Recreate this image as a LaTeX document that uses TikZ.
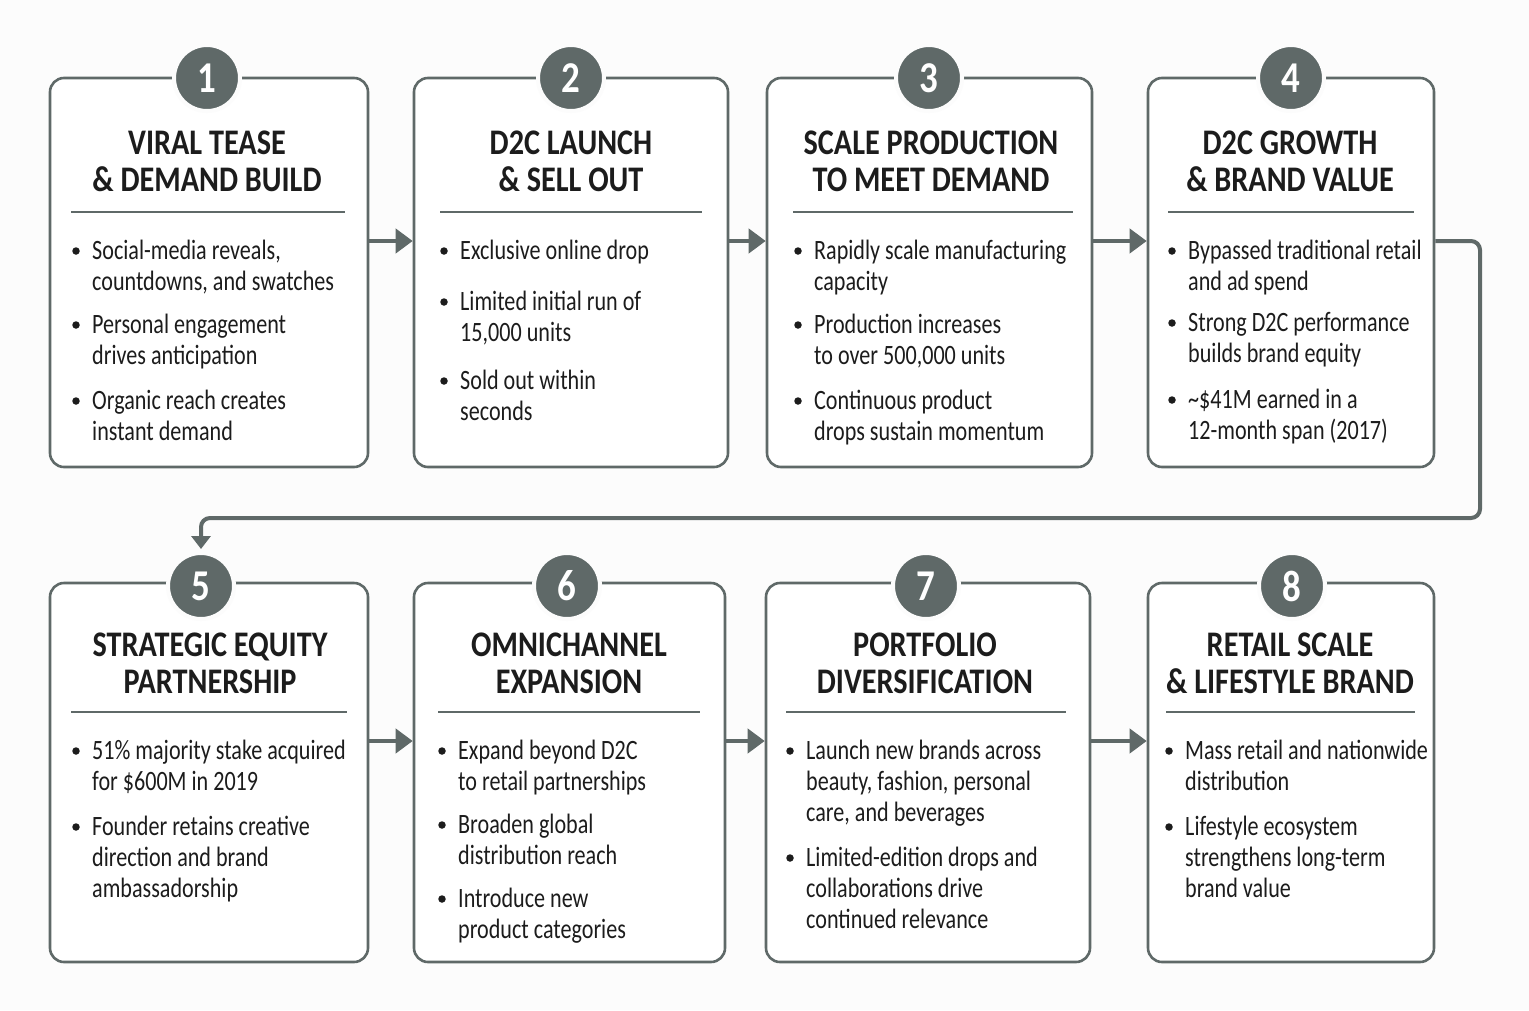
\documentclass[tikz,border=0pt]{standalone}
\usepackage{fontspec}
\setmainfont{Carlito}
\newfontfamily\bodyfont{Carlito}[FakeStretch=0.79]
\newfontfamily\titlefont{Carlito}[FakeStretch=0.84]
\usetikzlibrary{arrows.meta}
\definecolor{edgegray}{HTML}{5F6968}
\definecolor{inkc}{HTML}{1C1C1C}
\definecolor{bgc}{HTML}{FCFCFC}
\tikzset{
  stagebox/.style={draw=edgegray, line width=2.6pt, rounded corners=14pt, fill=white, inner sep=0pt},
  numdisc/.style={circle, fill=edgegray, draw=bgc, line width=4pt, minimum size=66pt, inner sep=0pt,
     text=white, font=\titlefont\bfseries\fontsize{44}{44}\selectfont},
  titletext/.style={anchor=base, inner sep=0pt, text=inkc, font=\titlefont\bfseries\fontsize{36}{36}\selectfont},
  bodytext/.style={anchor=base west, inner sep=0pt, text=inkc, font=\bodyfont\fontsize{28}{31}\selectfont},
  bdot/.style={circle, fill=inkc, minimum size=7.5pt, inner sep=0pt},
  divider/.style={draw=edgegray, line width=1.8pt},
  flowarrow/.style={draw=edgegray, line width=4pt, -{Triangle[length=17pt,width=24pt]}},
  wraparrow/.style={draw=edgegray, line width=4pt, rounded corners=9pt, -{Triangle[length=13pt,width=19pt]}},
}
\newcommand\bl[4]{%
  \node[bdot] (#1) at (#2-16,#3+1) {};
  \foreach \t [count=\i from 0] in {#4}
    \node[bodytext] (#1-\i) at (#2,#3+9+31*\i) {\t};
}
\newcommand\ttl[5]{%
  \node[titletext] (#1a) at (#2,#3+12) {#4};
  \node[titletext] (#1b) at (#2,#3+49) {#5};
}
\begin{document}
\begin{tikzpicture}[x=1pt,y=-1pt]
\useasboundingbox (0,0) rectangle (1529,1010);
\fill[bgc] (0,0) rectangle (1529,1010);

% boxes
\node[stagebox, minimum width=318pt, minimum height=389pt] (b1) at (209,272.5) {};
\node[stagebox, minimum width=314pt, minimum height=389pt] (b2) at (571,272.5) {};
\node[stagebox, minimum width=325pt, minimum height=389pt] (b3) at (929.5,272.5) {};
\node[stagebox, minimum width=286pt, minimum height=389pt] (b4) at (1291,272.5) {};
\node[stagebox, minimum width=318pt, minimum height=379pt] (b5) at (209,772.5) {};
\node[stagebox, minimum width=311pt, minimum height=379pt] (b6) at (569.5,772.5) {};
\node[stagebox, minimum width=324pt, minimum height=379pt] (b7) at (928,772.5) {};
\node[stagebox, minimum width=286pt, minimum height=379pt] (b8) at (1291,772.5) {};

% number discs
\node[numdisc] (c1) at (207,78) {1};
\node[numdisc] (c2) at (571,78) {2};
\node[numdisc] (c3) at (929,78) {3};
\node[numdisc] (c4) at (1291,78) {4};
\node[numdisc] (c5) at (201,586) {5};
\node[numdisc] (c6) at (567,586) {6};
\node[numdisc] (c7) at (926,586) {7};
\node[numdisc] (c8) at (1292,586) {8};

% titles
\ttl{t1}{207}{142}{VIRAL TEASE}{\& DEMAND BUILD}
\ttl{t2}{571}{142}{D2C LAUNCH}{\& SELL OUT}
\ttl{t3}{931}{142}{SCALE PRODUCTION}{TO MEET DEMAND}
\ttl{t4}{1290}{142}{D2C GROWTH}{\& BRAND VALUE}
\ttl{t5}{210}{644}{STRATEGIC EQUITY}{PARTNERSHIP}
\ttl{t6}{569}{644}{OMNICHANNEL}{EXPANSION}
\ttl{t7}{925}{644}{PORTFOLIO}{DIVERSIFICATION}
\ttl{t8}{1290}{644}{RETAIL SCALE}{\& LIFESTYLE BRAND}

% dividers
\draw[divider] (71,212) -- (345,212);
\draw[divider] (440,212) -- (702,212);
\draw[divider] (793,212) -- (1073,212);
\draw[divider] (1168,212) -- (1414,212);
\draw[divider] (71,712) -- (347,712);
\draw[divider] (438,712) -- (700,712);
\draw[divider] (786,712) -- (1066,712);
\draw[divider] (1166,712) -- (1415,712);

% bullets
\bl{p1a}{92}{250}{{Social-media reveals,},{countdowns, and swatches}}
\bl{p1b}{92}{324}{{Personal engagement},{drives anticipation}}
\bl{p1c}{92}{400}{{Organic reach creates},{instant demand}}

\bl{p2a}{460}{250}{{Exclusive online drop}}
\bl{p2b}{460}{301}{{Limited initial run of},{15,000 units}}
\bl{p2c}{460}{380}{{Sold out within},{seconds}}

\bl{p3a}{814}{250}{{Rapidly scale manufacturing},{capacity}}
\bl{p3b}{814}{324}{{Production increases},{to over 500,000 units}}
\bl{p3c}{814}{400}{{Continuous product},{drops sustain momentum}}

\bl{p4a}{1188}{250}{{Bypassed traditional retail},{and ad spend}}
\bl{p4b}{1188}{322}{{Strong D2C performance},{builds brand equity}}
\bl{p4c}{1188}{399}{{\textasciitilde\$41M earned in a},{12-month span (2017)}}

\bl{p5a}{92}{750}{{51\% majority stake acquired},{for \$600M in 2019}}
\bl{p5b}{92}{826}{{Founder retains creative},{direction and brand},{ambassadorship}}

\bl{p6a}{458}{750}{{Expand beyond D2C},{to retail partnerships}}
\bl{p6b}{458}{824}{{Broaden global},{distribution reach}}
\bl{p6c}{458}{898}{{Introduce new},{product categories}}

\bl{p7a}{806}{750}{{Launch new brands across},{beauty, fashion, personal},{care, and beverages}}
\bl{p7b}{806}{857}{{Limited-edition drops and},{collaborations drive},{continued relevance}}

\bl{p8a}{1185}{750}{{Mass retail and nationwide},{distribution}}
\bl{p8b}{1185}{826}{{Lifestyle ecosystem},{strengthens long-term},{brand value}}

% connectors
\coordinate (r1) at (0,241);
\coordinate (r2) at (0,741);
\coordinate (wr) at (1480,518);
\draw[flowarrow] (b1.east |- r1) -- (b2.west |- r1);
\draw[flowarrow] (b2.east |- r1) -- (b3.west |- r1);
\draw[flowarrow] (b3.east |- r1) -- (b4.west |- r1);
\draw[flowarrow] (b5.east |- r2) -- (b6.west |- r2);
\draw[flowarrow] (b6.east |- r2) -- (b7.west |- r2);
\draw[flowarrow] (b7.east |- r2) -- (b8.west |- r2);
\draw[wraparrow, shorten >=2pt] (b4.east |- r1) -| (wr) -| (c5.north);
\end{tikzpicture}
\end{document}
